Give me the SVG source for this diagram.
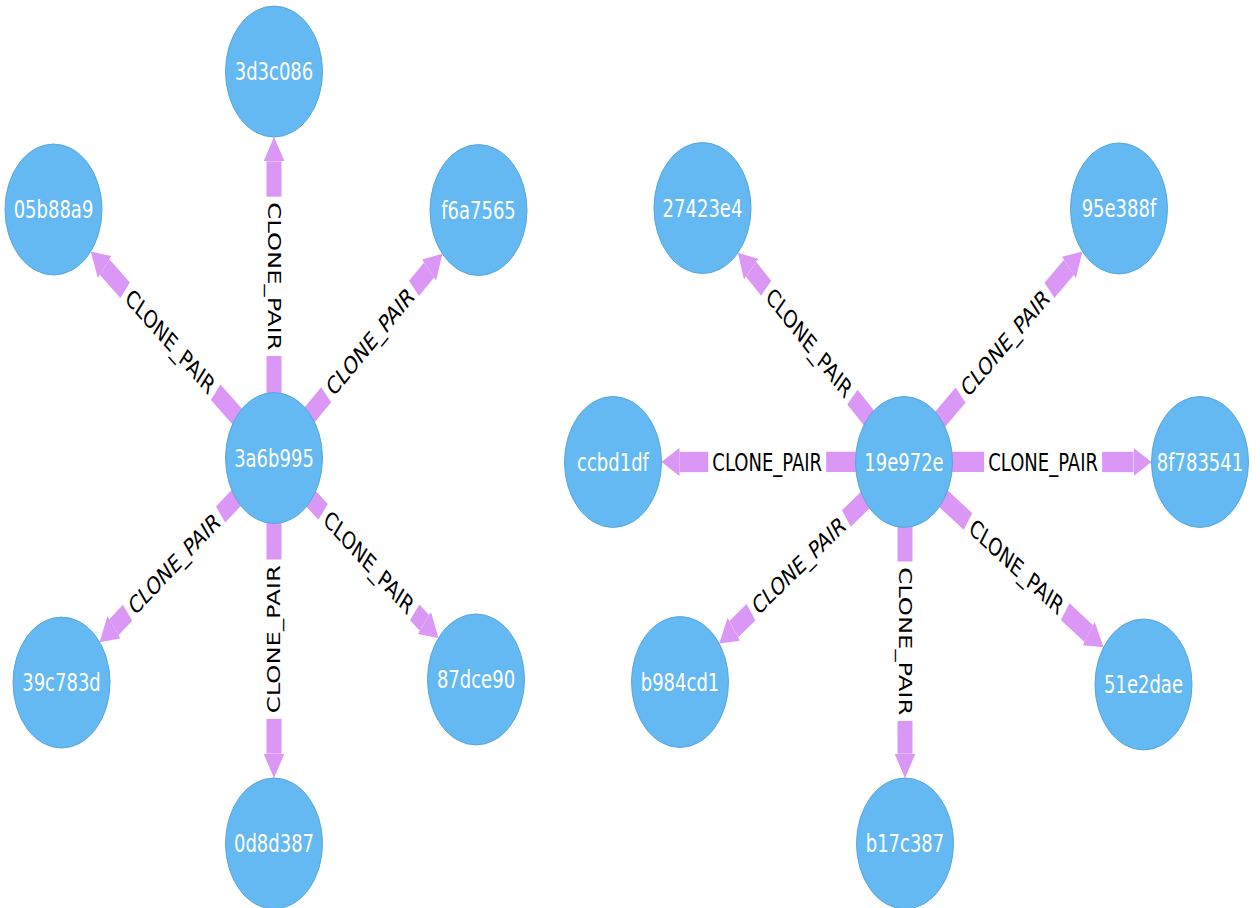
<svg xmlns="http://www.w3.org/2000/svg" width="1260" height="908" viewBox="0 0 1260 908">
<style>
.n ellipse{fill:#64b9f2;stroke:#58a6dd;stroke-width:1;vector-effect:non-scaling-stroke}
.n text{fill:#ffffff;font-family:"DejaVu Sans",sans-serif;font-size:18px;text-anchor:middle}
.s{stroke:#da97f5;stroke-width:15;fill:none;stroke-linecap:butt}
.a{marker-end:url(#ah)}
.el{fill:#000000;font-family:"DejaVu Sans",sans-serif;font-size:18px;text-anchor:middle}
</style>
<defs>
<marker id="ah" markerUnits="userSpaceOnUse" viewBox="0 0 18 21" markerWidth="18" markerHeight="21" refX="0" refY="10.5" orient="auto"><path d="M0,0 L18,10.5 L0,21 z" fill="#da97f5"/></marker>
</defs>
<rect width="1260" height="908" fill="#ffffff"/>
<g transform="scale(1,1.35)">
<g id="edges">
<g id="e1"><path class="s" d="M274,339.3 L274,263.7"/><path class="s a" d="M274,145.7 L274,119.5"/><text class="el" transform="translate(274,204.7) rotate(90)" dy="0.36em">CLONE_PAIR</text></g>
<g id="e2"><path class="s" d="M274,339.3 L274,414.5"/><path class="s a" d="M274,532.5 L274,558.3"/><text class="el" transform="translate(274,473.5) rotate(-90)" dy="0.36em">CLONE_PAIR</text></g>
<g id="e3"><path class="s" d="M274,339.3 L215.7,290.6"/><path class="s a" d="M125.1,215.0 L104.55,197.82"/><text class="el" transform="translate(170.4,252.8) rotate(39.86)" dy="0.36em">CLONE_PAIR</text></g>
<g id="e4"><path class="s" d="M274,339.3 L326.2,292.4"/><path class="s a" d="M414.0,213.6 L429.03,200.04"/><text class="el" transform="translate(370.1,253.0) rotate(-41.93)" dy="0.36em">CLONE_PAIR</text></g>
<g id="e5"><path class="s" d="M274,339.3 L220.6,381.1"/><path class="s a" d="M127.6,453.9 L113.88,464.6"/><text class="el" transform="translate(174.1,417.5) rotate(-38.05)" dy="0.36em">CLONE_PAIR</text></g>
<g id="e6"><path class="s" d="M274,339.3 L323.1,379.2"/><path class="s a" d="M414.7,453.6 L424.38,461.38"/><text class="el" transform="translate(368.9,416.4) rotate(39.07)" dy="0.36em">CLONE_PAIR</text></g>
<g id="e7"><path class="s" d="M904,342.2 L826.2,342.2"/><path class="s a" d="M708.2,342.2 L679.5,342.2"/><text class="el" transform="translate(767.2,342.2)" dy="0.36em">CLONE_PAIR</text></g>
<g id="e8"><path class="s" d="M904,342.2 L984.1,342.2"/><path class="s a" d="M1102.1,342.2 L1133.5,342.2"/><text class="el" transform="translate(1043.1,342.2)" dy="0.36em">CLONE_PAIR</text></g>
<g id="e9"><path class="s" d="M904,342.2 L852.4,294.1"/><path class="s a" d="M766.2,213.5 L751.11,199.48"/><text class="el" transform="translate(809.3,253.8) rotate(43.03)" dy="0.36em">CLONE_PAIR</text></g>
<g id="e10"><path class="s" d="M904,342.2 L960.6,292.7"/><path class="s a" d="M1049.5,215.1 L1068.91,198.14"/><text class="el" transform="translate(1005.05,253.93) rotate(-41.13)" dy="0.36em">CLONE_PAIR</text></g>
<g id="e11"><path class="s" d="M904,342.2 L846.4,384.1"/><path class="s a" d="M751.0,453.5 L733.78,466.07"/><text class="el" transform="translate(798.7,418.8) rotate(-36.04)" dy="0.36em">CLONE_PAIR</text></g>
<g id="e12"><path class="s" d="M904,342.2 L968.0,386.3"/><path class="s a" d="M1065.2,453.1 L1088.71,469.31"/><text class="el" transform="translate(1016.6,419.7) rotate(34.53)" dy="0.36em">CLONE_PAIR</text></g>
<g id="e13"><path class="s" d="M905,342.2 L905,416"/><path class="s a" d="M905,534 L905,558.3"/><text class="el" transform="translate(905,475) rotate(90)" dy="0.36em">CLONE_PAIR</text></g>
</g>
<g id="n_3a6b995" class="n"><ellipse cx="274" cy="339.3" rx="48.5" ry="48.5"/><text x="274" y="339.3" dy="0.36em">3a6b995</text></g>
<g id="n_3d3c086" class="n"><ellipse cx="274" cy="53" rx="48.5" ry="48.5"/><text x="274" y="53" dy="0.36em">3d3c086</text></g>
<g id="n_05b88a9" class="n"><ellipse cx="53.5" cy="155.2" rx="48.5" ry="48.5"/><text x="53.5" y="155.2" dy="0.36em">05b88a9</text></g>
<g id="n_f6a7565" class="n"><ellipse cx="478.5" cy="155.6" rx="48.5" ry="48.5"/><text x="478.5" y="155.6" dy="0.36em">f6a7565</text></g>
<g id="n_39c783d" class="n"><ellipse cx="61.5" cy="505.6" rx="48.5" ry="48.5"/><text x="61.5" y="505.6" dy="0.36em">39c783d</text></g>
<g id="n_87dce90" class="n"><ellipse cx="476" cy="503.3" rx="48.5" ry="48.5"/><text x="476" y="503.3" dy="0.36em">87dce90</text></g>
<g id="n_0d8d387" class="n"><ellipse cx="274" cy="624.8" rx="48.5" ry="48.5"/><text x="274" y="624.8" dy="0.36em">0d8d387</text></g>
<g id="n_19e972e" class="n"><ellipse cx="904" cy="342.2" rx="48.5" ry="48.5"/><text x="904" y="342.2" dy="0.36em">19e972e</text></g>
<g id="n_ccbd1df" class="n"><ellipse cx="613" cy="342.2" rx="48.5" ry="48.5"/><text x="613" y="342.2" dy="0.36em">ccbd1df</text></g>
<g id="n_8f783541" class="n"><ellipse cx="1200" cy="342.2" rx="48.5" ry="48.5"/><text x="1200" y="342.2" dy="0.36em">8f783541</text></g>
<g id="n_27423e4" class="n"><ellipse cx="702.5" cy="154.1" rx="48.5" ry="48.5"/><text x="702.5" y="154.1" dy="0.36em">27423e4</text></g>
<g id="n_95e388f" class="n"><ellipse cx="1119" cy="154.4" rx="48.5" ry="48.5"/><text x="1119" y="154.4" dy="0.36em">95e388f</text></g>
<g id="n_b984cd1" class="n"><ellipse cx="680" cy="505.2" rx="48.5" ry="48.5"/><text x="680" y="505.2" dy="0.36em">b984cd1</text></g>
<g id="n_51e2dae" class="n"><ellipse cx="1143.5" cy="507" rx="48.5" ry="48.5"/><text x="1143.5" y="507" dy="0.36em">51e2dae</text></g>
<g id="n_b17c387" class="n"><ellipse cx="905" cy="624.8" rx="48.5" ry="48.5"/><text x="905" y="624.8" dy="0.36em">b17c387</text></g>
</g>
</svg>
